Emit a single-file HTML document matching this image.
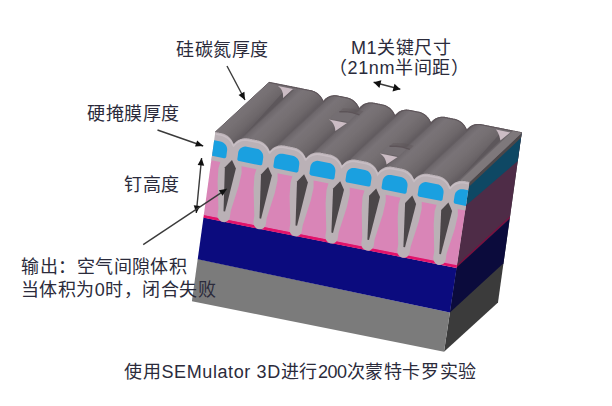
<!DOCTYPE html>
<html lang="zh-CN"><head><meta charset="utf-8"><style>
html,body{margin:0;padding:0;}
body{width:612px;height:406px;background:#fff;position:relative;overflow:hidden;}
svg{position:absolute;left:0;top:0;filter:blur(0.45px);}
.t{position:absolute;font-family:"Liberation Sans",sans-serif;font-size:18.6px;line-height:24px;color:#2b2b3b;white-space:nowrap;}
</style></head><body>
<svg width="612" height="406" viewBox="0 0 612 406">
<defs><linearGradient id="rg0" gradientUnits="userSpaceOnUse" x1="224.48" y1="112.43" x2="244.78" y2="134.19"><stop offset="0.000" stop-color="#5d575b"/><stop offset="0.060" stop-color="#6d676b"/><stop offset="0.250" stop-color="#797377"/><stop offset="0.500" stop-color="#767073"/><stop offset="0.800" stop-color="#6d676a"/><stop offset="1.000" stop-color="#615b5f"/></linearGradient>
<linearGradient id="rg1" gradientUnits="userSpaceOnUse" x1="260.46" y1="119.56" x2="280.76" y2="141.32"><stop offset="0.000" stop-color="#5d575b"/><stop offset="0.060" stop-color="#6d676b"/><stop offset="0.250" stop-color="#797377"/><stop offset="0.500" stop-color="#767073"/><stop offset="0.800" stop-color="#6d676a"/><stop offset="1.000" stop-color="#615b5f"/></linearGradient>
<linearGradient id="rg2" gradientUnits="userSpaceOnUse" x1="296.44" y1="126.70" x2="316.74" y2="148.45"><stop offset="0.000" stop-color="#5d575b"/><stop offset="0.060" stop-color="#6d676b"/><stop offset="0.250" stop-color="#797377"/><stop offset="0.500" stop-color="#767073"/><stop offset="0.800" stop-color="#6d676a"/><stop offset="1.000" stop-color="#615b5f"/></linearGradient>
<linearGradient id="rg3" gradientUnits="userSpaceOnUse" x1="332.42" y1="133.83" x2="352.72" y2="155.59"><stop offset="0.000" stop-color="#5d575b"/><stop offset="0.060" stop-color="#6d676b"/><stop offset="0.250" stop-color="#797377"/><stop offset="0.500" stop-color="#767073"/><stop offset="0.800" stop-color="#6d676a"/><stop offset="1.000" stop-color="#615b5f"/></linearGradient>
<linearGradient id="rg4" gradientUnits="userSpaceOnUse" x1="368.39" y1="140.96" x2="388.69" y2="162.72"><stop offset="0.000" stop-color="#5d575b"/><stop offset="0.060" stop-color="#6d676b"/><stop offset="0.250" stop-color="#797377"/><stop offset="0.500" stop-color="#767073"/><stop offset="0.800" stop-color="#6d676a"/><stop offset="1.000" stop-color="#615b5f"/></linearGradient>
<linearGradient id="rg5" gradientUnits="userSpaceOnUse" x1="404.37" y1="148.09" x2="424.67" y2="169.85"><stop offset="0.000" stop-color="#5d575b"/><stop offset="0.060" stop-color="#6d676b"/><stop offset="0.250" stop-color="#797377"/><stop offset="0.500" stop-color="#767073"/><stop offset="0.800" stop-color="#6d676a"/><stop offset="1.000" stop-color="#615b5f"/></linearGradient>
<linearGradient id="rg6" gradientUnits="userSpaceOnUse" x1="440.35" y1="155.23" x2="460.65" y2="176.99"><stop offset="0.000" stop-color="#5d575b"/><stop offset="0.060" stop-color="#6d676b"/><stop offset="0.250" stop-color="#797377"/><stop offset="0.500" stop-color="#767073"/><stop offset="0.800" stop-color="#6d676a"/><stop offset="1.000" stop-color="#615b5f"/></linearGradient>
<linearGradient id="rg7" gradientUnits="userSpaceOnUse" x1="476.33" y1="162.36" x2="496.63" y2="184.12"><stop offset="0.000" stop-color="#5d575b"/><stop offset="0.060" stop-color="#6d676b"/><stop offset="0.250" stop-color="#797377"/><stop offset="0.500" stop-color="#767073"/><stop offset="0.800" stop-color="#6d676a"/><stop offset="1.000" stop-color="#615b5f"/></linearGradient></defs>
<polygon points="469.5,182.0 521.7,132.8 498.0,302.4 444.0,351.7" fill="#3b3b3b" />
<polygon points="469.5,182.0 521.7,132.8 509.9,217.5 456.8,266.7" fill="#4e2c47" />
<polygon points="457.0,265.0 510.0,216.3 509.7,218.8 456.6,267.6" fill="#7a1040" />
<polygon points="456.6,267.6 509.7,218.8 503.5,263.3 449.9,312.6" fill="#0b0b3c" />
<polygon points="469.5,182.0 521.7,132.8 517.8,160.9 466.0,205.6" fill="#0e4864" />
<polygon points="469.5,182.0 521.7,132.8 521.0,137.8 468.7,187.0" fill="#4c4749" />
<polygon points="215.3,132.0 215.9,132.1 216.6,132.2 217.2,132.4 217.8,132.5 218.5,132.6 219.1,132.8 219.7,132.9 220.4,133.0 221.0,133.1 221.7,133.3 222.3,133.4 222.9,133.6 223.5,133.8 224.2,134.0 224.8,134.3 225.4,134.6 226.0,134.9 226.6,135.3 227.2,135.6 227.8,136.1 228.4,136.5 229.0,137.0 229.5,137.6 230.1,138.2 230.7,138.8 231.2,139.5 231.8,140.3 232.3,141.2 232.8,142.2 233.3,143.3 233.9,144.1 234.7,143.1 235.4,142.3 236.2,141.6 236.9,141.0 237.6,140.5 238.3,140.1 239.0,139.7 239.7,139.4 240.4,139.1 241.1,138.9 241.8,138.7 242.5,138.5 243.1,138.4 243.8,138.3 244.5,138.2 245.1,138.2 245.8,138.2 246.4,138.2 247.1,138.3 247.7,138.4 248.3,138.5 249.0,138.6 249.6,138.8 250.3,138.9 250.9,139.0 251.5,139.1 252.2,139.2 252.8,139.4 253.4,139.5 254.1,139.6 254.7,139.8 255.3,139.9 256.0,140.0 256.6,140.1 257.2,140.2 257.9,140.4 258.5,140.5 259.1,140.7 259.8,140.9 260.4,141.2 261.0,141.4 261.6,141.7 262.2,142.1 262.8,142.4 263.4,142.8 264.0,143.3 264.6,143.7 265.2,144.2 265.7,144.8 266.3,145.4 266.9,146.1 267.4,146.8 268.0,147.6 268.5,148.5 269.0,149.5 269.5,150.7 270.1,151.0 270.9,150.0 271.7,149.2 272.4,148.6 273.1,148.0 273.9,147.5 274.6,147.1 275.3,146.7 276.0,146.4 276.7,146.2 277.3,145.9 278.0,145.7 278.7,145.6 279.4,145.5 280.0,145.4 280.7,145.3 281.3,145.3 282.0,145.3 282.6,145.4 283.3,145.4 283.9,145.5 284.6,145.6 285.2,145.8 285.8,145.9 286.5,146.0 287.1,146.1 287.7,146.2 288.4,146.4 289.0,146.5 289.7,146.6 290.3,146.8 290.9,146.9 291.6,147.0 292.2,147.1 292.8,147.2 293.5,147.4 294.1,147.5 294.7,147.7 295.4,147.9 296.0,148.1 296.6,148.3 297.2,148.6 297.8,148.9 298.4,149.2 299.0,149.6 299.6,150.0 300.2,150.4 300.8,150.9 301.4,151.4 302.0,152.0 302.5,152.6 303.1,153.3 303.6,154.0 304.2,154.9 304.7,155.8 305.2,156.8 305.7,158.0 306.3,157.9 307.1,156.9 307.9,156.2 308.6,155.5 309.4,155.0 310.1,154.5 310.8,154.1 311.5,153.8 312.2,153.5 312.9,153.2 313.6,153.0 314.3,152.8 314.9,152.7 315.6,152.6 316.3,152.5 316.9,152.4 317.6,152.4 318.2,152.4 318.9,152.5 319.5,152.5 320.2,152.6 320.8,152.8 321.4,152.9 322.1,153.0 322.7,153.1 323.3,153.2 324.0,153.4 324.6,153.5 325.2,153.6 325.9,153.8 326.5,153.9 327.1,154.0 327.8,154.1 328.4,154.2 329.1,154.4 329.7,154.5 330.3,154.6 331.0,154.8 331.6,155.0 332.2,155.2 332.8,155.5 333.4,155.8 334.0,156.1 334.6,156.4 335.2,156.8 335.8,157.2 336.4,157.6 337.0,158.1 337.6,158.6 338.2,159.2 338.7,159.8 339.3,160.5 339.8,161.3 340.4,162.1 340.9,163.1 341.4,164.1 341.8,165.4 342.6,164.8 343.4,163.9 344.1,163.2 344.9,162.5 345.6,162.0 346.3,161.5 347.0,161.1 347.7,160.8 348.4,160.5 349.1,160.3 349.8,160.1 350.5,159.9 351.2,159.7 351.8,159.6 352.5,159.6 353.1,159.5 353.8,159.5 354.5,159.5 355.1,159.6 355.7,159.7 356.4,159.8 357.0,159.9 357.7,160.0 358.3,160.1 358.9,160.2 359.6,160.4 360.2,160.5 360.8,160.6 361.5,160.8 362.1,160.9 362.7,161.0 363.4,161.1 364.0,161.2 364.6,161.4 365.3,161.5 365.9,161.6 366.5,161.8 367.2,161.9 367.8,162.1 368.4,162.4 369.0,162.6 369.6,162.9 370.3,163.2 370.9,163.6 371.5,164.0 372.0,164.4 372.6,164.8 373.2,165.3 373.8,165.9 374.4,166.4 374.9,167.1 375.5,167.8 376.0,168.5 376.5,169.4 377.1,170.4 377.6,171.5 378.0,172.7 378.8,171.7 379.6,170.8 380.4,170.1 381.1,169.5 381.8,169.0 382.6,168.6 383.3,168.2 384.0,167.8 384.7,167.6 385.3,167.3 386.0,167.1 386.7,167.0 387.4,166.8 388.0,166.7 388.7,166.7 389.4,166.6 390.0,166.6 390.7,166.6 391.3,166.7 392.0,166.8 392.6,166.9 393.2,167.0 393.9,167.1 394.5,167.2 395.1,167.4 395.8,167.5 396.4,167.6 397.1,167.8 397.7,167.9 398.3,168.0 399.0,168.1 399.6,168.2 400.2,168.4 400.9,168.5 401.5,168.6 402.1,168.8 402.8,168.9 403.4,169.1 404.0,169.3 404.6,169.5 405.3,169.8 405.9,170.1 406.5,170.4 407.1,170.8 407.7,171.1 408.3,171.6 408.8,172.0 409.4,172.5 410.0,173.1 410.6,173.7 411.1,174.3 411.7,175.0 412.2,175.8 412.7,176.7 413.2,177.7 413.7,178.8 414.3,179.6 415.1,178.6 415.8,177.8 416.6,177.1 417.3,176.5 418.1,176.0 418.8,175.6 419.5,175.2 420.2,174.9 420.9,174.6 421.6,174.4 422.3,174.2 422.9,174.0 423.6,173.9 424.3,173.8 424.9,173.8 425.6,173.7 426.3,173.7 426.9,173.8 427.5,173.8 428.2,173.9 428.8,174.0 429.5,174.1 430.1,174.2 430.7,174.4 431.4,174.5 432.0,174.6 432.6,174.8 433.3,174.9 433.9,175.0 434.5,175.1 435.2,175.2 435.8,175.4 436.5,175.5 437.1,175.6 437.7,175.8 438.4,175.9 439.0,176.0 439.6,176.2 440.2,176.4 440.9,176.7 441.5,176.9 442.1,177.2 442.7,177.6 443.3,177.9 443.9,178.3 444.5,178.8 445.1,179.2 445.6,179.7 446.2,180.3 446.8,180.9 447.3,181.5 447.9,182.3 448.4,183.1 448.9,184.0 449.4,185.0 449.9,186.2 450.5,186.5 451.3,185.5 452.1,184.8 452.8,184.1 453.6,183.5 454.3,183.0 455.0,182.6 455.7,182.2 456.4,181.9 457.1,181.7 457.8,181.4 458.5,181.3 459.2,181.1 459.8,181.0 460.5,180.9 461.2,180.8 461.8,180.8 462.5,180.8 463.1,180.9 463.8,180.9 464.4,181.0 465.1,181.1 465.7,181.2 466.3,181.4 467.0,181.5 467.6,181.6 468.2,181.8 468.9,181.9 469.5,182.0 521.7,132.8 521.1,132.7 520.4,132.5 519.8,132.4 519.2,132.3 518.5,132.2 517.9,132.0 517.3,131.9 516.6,131.8 516.0,131.7 515.4,131.5 514.8,131.4 514.1,131.3 513.5,131.2 512.9,131.0 512.2,130.9 511.6,130.8 511.0,130.7 510.3,130.5 509.7,130.4 509.1,130.3 508.4,130.2 507.8,130.0 507.2,129.9 506.5,129.8 505.9,129.7 505.3,129.5 504.6,129.4 504.0,129.3 503.4,129.1 502.7,129.0 502.1,128.9 501.5,128.8 500.9,128.6 500.2,128.5 499.6,128.4 499.0,128.3 498.3,128.1 497.7,128.0 497.1,127.9 496.4,127.8 495.8,127.6 495.2,127.5 494.5,127.4 493.9,127.3 493.3,127.1 492.6,127.0 492.0,126.9 491.4,126.8 490.7,126.6 490.1,126.5 489.5,126.4 488.8,126.2 488.2,126.1 487.6,126.0 487.0,125.9 486.3,125.7 485.7,125.6 485.1,125.5 484.4,125.4 483.8,125.2 483.2,125.1 482.5,125.0 481.9,124.9 481.3,124.7 480.6,124.6 480.0,124.5 479.4,124.5 478.7,124.5 478.1,124.5 477.4,124.5 476.7,124.5 476.1,124.6 475.4,124.8 474.7,124.9 474.1,125.1 473.4,125.3 472.7,125.6 472.0,125.9 471.3,126.3 470.6,126.7 469.8,127.2 469.1,127.8 468.4,128.5 467.6,129.3 466.8,130.3 466.3,129.5 465.8,128.4 465.3,127.4 464.7,126.5 464.2,125.7 463.7,125.0 463.1,124.4 462.6,123.8 462.0,123.2 461.4,122.7 460.8,122.3 460.2,121.8 459.6,121.5 459.0,121.1 458.4,120.8 457.8,120.5 457.2,120.2 456.6,120.0 456.0,119.8 455.4,119.6 454.7,119.4 454.1,119.3 453.5,119.2 452.8,119.1 452.2,118.9 451.6,118.8 450.9,118.7 450.3,118.6 449.7,118.4 449.0,118.3 448.4,118.2 447.8,118.1 447.2,117.9 446.5,117.8 445.9,117.7 445.3,117.6 444.6,117.4 444.0,117.4 443.3,117.3 442.7,117.3 442.0,117.3 441.4,117.3 440.7,117.4 440.1,117.5 439.4,117.6 438.7,117.8 438.0,118.0 437.4,118.2 436.7,118.5 436.0,118.8 435.3,119.2 434.5,119.7 433.8,120.2 433.1,120.8 432.3,121.5 431.6,122.3 430.8,123.4 430.3,122.1 429.8,121.0 429.3,120.1 428.8,119.2 428.2,118.4 427.7,117.7 427.1,117.1 426.6,116.5 426.0,116.0 425.4,115.5 424.8,115.0 424.2,114.6 423.6,114.2 423.0,113.9 422.4,113.6 421.8,113.3 421.2,113.0 420.6,112.8 420.0,112.6 419.4,112.4 418.7,112.3 418.1,112.1 417.5,112.0 416.8,111.9 416.2,111.8 415.6,111.6 414.9,111.5 414.3,111.4 413.7,111.3 413.0,111.1 412.4,111.0 411.8,110.9 411.1,110.8 410.5,110.6 409.9,110.5 409.2,110.4 408.6,110.3 408.0,110.2 407.3,110.2 406.7,110.1 406.0,110.1 405.4,110.2 404.7,110.3 404.1,110.4 403.4,110.5 402.7,110.7 402.0,110.9 401.3,111.1 400.6,111.4 399.9,111.8 399.2,112.1 398.5,112.6 397.8,113.1 397.1,113.8 396.3,114.5 395.5,115.4 394.8,116.0 394.3,114.7 393.8,113.7 393.3,112.7 392.8,111.9 392.2,111.1 391.7,110.4 391.1,109.8 390.6,109.2 390.0,108.7 389.4,108.2 388.8,107.8 388.2,107.4 387.6,107.0 387.0,106.7 386.4,106.3 385.8,106.1 385.2,105.8 384.6,105.6 384.0,105.4 383.3,105.2 382.7,105.1 382.1,105.0 381.5,104.8 380.8,104.7 380.2,104.6 379.6,104.4 378.9,104.3 378.3,104.2 377.7,104.1 377.0,103.9 376.4,103.8 375.8,103.7 375.1,103.6 374.5,103.4 373.9,103.3 373.2,103.2 372.6,103.1 372.0,103.0 371.3,103.0 370.7,103.0 370.0,103.0 369.4,103.0 368.7,103.1 368.0,103.2 367.4,103.4 366.7,103.5 366.0,103.8 365.3,104.0 364.6,104.3 363.9,104.7 363.2,105.1 362.5,105.5 361.8,106.1 361.0,106.7 360.3,107.5 359.5,108.4 358.8,108.6 358.4,107.4 357.9,106.3 357.3,105.4 356.8,104.6 356.3,103.8 355.7,103.2 355.1,102.5 354.6,102.0 354.0,101.5 353.4,101.0 352.8,100.5 352.2,100.1 351.6,99.8 351.0,99.4 350.4,99.1 349.8,98.9 349.2,98.6 348.6,98.4 348.0,98.2 347.3,98.0 346.7,97.9 346.1,97.8 345.4,97.6 344.8,97.5 344.2,97.4 343.5,97.3 342.9,97.1 342.3,97.0 341.7,96.9 341.0,96.8 340.4,96.6 339.8,96.5 339.1,96.4 338.5,96.3 337.9,96.1 337.2,96.0 336.6,95.9 336.0,95.9 335.3,95.8 334.7,95.8 334.0,95.8 333.3,95.9 332.7,96.0 332.0,96.1 331.4,96.2 330.7,96.4 330.0,96.6 329.3,96.9 328.6,97.2 327.9,97.6 327.2,98.0 326.5,98.5 325.8,99.0 325.0,99.7 324.3,100.5 323.5,101.5 322.9,101.2 322.4,100.0 321.9,99.0 321.4,98.1 320.8,97.3 320.3,96.5 319.7,95.9 319.1,95.3 318.6,94.7 318.0,94.2 317.4,93.7 316.8,93.3 316.2,92.9 315.6,92.5 315.0,92.2 314.4,91.9 313.8,91.6 313.2,91.4 312.6,91.2 312.0,91.0 311.3,90.8 310.7,90.7 310.1,90.6 309.4,90.5 308.8,90.3 308.2,90.2 307.5,90.1 306.9,90.0 306.3,89.8 305.6,89.7 305.0,89.6 304.4,89.5 303.7,89.3 303.1,89.2 302.5,89.1 301.9,89.0 301.2,88.8 300.6,88.7 300.0,88.6 299.3,88.4 298.7,88.3 298.1,88.2 297.4,88.1 296.8,87.9 296.2,87.8 295.5,87.7 294.9,87.6 294.3,87.4 293.6,87.3 293.0,87.2 292.4,87.1 291.7,86.9 291.1,86.8 290.5,86.7 289.8,86.6 289.2,86.4 288.6,86.3 288.0,86.2 287.3,86.1 286.7,85.9 286.1,85.8 285.4,85.7 284.8,85.5 284.2,85.4 283.5,85.3 282.9,85.2 282.3,85.0 281.6,84.9 281.0,84.8 280.4,84.7 279.7,84.5 279.1,84.4 278.5,84.3 277.8,84.2 277.2,84.0 276.6,83.9 275.9,83.8 275.3,83.7 274.7,83.5 274.1,83.4 273.4,83.3 272.8,83.2 272.2,83.0 271.5,82.9 270.9,82.8 270.3,82.7 269.6,82.5 269.0,82.4" fill="#6f696c" stroke="#5f565b" stroke-width="1"/>
<polygon points="215.3,132.0 233.4,146.3 288.4,86.3 287.9,86.2 287.5,86.1 287.0,86.0 286.5,85.9 286.0,85.8 285.5,85.7 285.0,85.6 284.5,85.5 284.1,85.4 283.6,85.3 283.1,85.2 282.6,85.1 282.1,85.0 281.6,84.9 281.1,84.8 280.7,84.7 280.2,84.6 279.7,84.5 279.2,84.4 278.7,84.3 278.2,84.2 277.7,84.1 277.3,84.0 276.8,84.0 276.3,83.9 275.8,83.8 275.3,83.7 274.8,83.6 274.3,83.5 273.9,83.4 273.4,83.3 272.9,83.2 272.4,83.1 271.9,83.0 271.4,82.9 270.9,82.8 270.5,82.7 270.0,82.6 269.5,82.5 269.0,82.4" fill="url(#rg0)"/>
<polygon points="233.4,146.3 269.5,153.5 323.1,101.9 322.5,100.1 321.7,98.7 321.0,97.5 320.2,96.5 319.4,95.5 318.6,94.7 317.8,94.0 316.9,93.4 316.1,92.8 315.3,92.3 314.4,91.9 313.5,91.5 312.6,91.2 311.8,91.0 310.9,90.7 310.0,90.6 309.1,90.4 308.2,90.2 307.3,90.0 306.4,89.9 305.5,89.7 304.6,89.5 303.7,89.3 302.8,89.1 301.9,89.0 301.0,88.8 300.1,88.6 299.2,88.4 298.3,88.2 297.4,88.1 296.5,87.9 295.6,87.7 294.7,87.5 293.8,87.3 292.9,87.2 292.0,87.0 291.1,86.8 290.2,86.6 289.3,86.5 288.4,86.3" fill="url(#rg1)"/>
<polygon points="269.5,153.5 305.6,160.6 359.0,109.1 358.3,107.3 357.6,105.9 356.9,104.7 356.1,103.6 355.3,102.7 354.5,101.9 353.7,101.2 352.8,100.5 352.0,100.0 351.1,99.5 350.3,99.1 349.4,98.7 348.5,98.4 347.6,98.1 346.8,97.9 345.9,97.7 345.0,97.5 344.1,97.4 343.2,97.2 342.3,97.0 341.4,96.8 340.5,96.7 339.6,96.5 338.7,96.3 337.8,96.1 336.9,96.0 336.0,95.9 335.1,95.8 334.1,95.8 333.2,95.9 332.3,96.0 331.3,96.3 330.3,96.5 329.4,96.9 328.4,97.3 327.4,97.9 326.4,98.6 325.3,99.4 324.2,100.5 323.1,101.9" fill="url(#rg2)"/>
<polygon points="305.6,160.6 341.6,167.7 394.9,116.3 394.2,114.5 393.5,113.0 392.7,111.8 392.0,110.8 391.2,109.9 390.4,109.1 389.5,108.3 388.7,107.7 387.9,107.1 387.0,106.6 386.2,106.2 385.3,105.8 384.4,105.5 383.5,105.3 382.6,105.1 381.7,104.9 380.8,104.7 379.9,104.5 379.0,104.3 378.2,104.2 377.3,104.0 376.4,103.8 375.5,103.6 374.6,103.5 373.7,103.3 372.8,103.1 371.9,103.0 370.9,103.0 370.0,103.0 369.1,103.1 368.1,103.2 367.2,103.4 366.2,103.7 365.3,104.0 364.3,104.5 363.3,105.0 362.2,105.7 361.2,106.6 360.1,107.7 359.0,109.1" fill="url(#rg3)"/>
<polygon points="341.6,167.7 377.7,174.8 430.7,123.4 430.1,121.6 429.4,120.2 428.6,119.0 427.8,117.9 427.1,117.0 426.3,116.2 425.4,115.5 424.6,114.9 423.8,114.3 422.9,113.8 422.1,113.4 421.2,113.0 420.3,112.7 419.4,112.4 418.5,112.2 417.6,112.0 416.7,111.9 415.8,111.7 414.9,111.5 414.0,111.3 413.1,111.1 412.2,111.0 411.3,110.8 410.5,110.6 409.6,110.4 408.7,110.3 407.7,110.2 406.8,110.1 405.9,110.2 405.0,110.2 404.0,110.4 403.1,110.6 402.1,110.8 401.1,111.2 400.1,111.7 399.1,112.2 398.1,112.9 397.1,113.7 396.0,114.8 394.9,116.3" fill="url(#rg4)"/>
<polygon points="377.7,174.8 413.8,181.9 466.6,130.6 466.0,128.8 465.2,127.3 464.5,126.1 463.7,125.1 462.9,124.2 462.1,123.4 461.3,122.7 460.5,122.0 459.6,121.5 458.8,121.0 457.9,120.5 457.1,120.2 456.2,119.8 455.3,119.6 454.4,119.4 453.5,119.2 452.6,119.0 451.7,118.8 450.8,118.7 449.9,118.5 449.0,118.3 448.1,118.1 447.2,117.9 446.3,117.8 445.4,117.6 444.5,117.4 443.6,117.3 442.7,117.3 441.8,117.3 440.9,117.4 439.9,117.5 439.0,117.7 438.0,118.0 437.0,118.4 436.0,118.8 435.0,119.4 434.0,120.1 433.0,120.9 431.9,122.0 430.7,123.4" fill="url(#rg5)"/>
<polygon points="413.8,181.9 449.9,189.0 503.8,129.2 502.9,129.0 502.0,128.9 501.1,128.7 500.2,128.5 499.3,128.3 498.4,128.1 497.5,128.0 496.6,127.8 495.7,127.6 494.8,127.4 493.9,127.3 493.0,127.1 492.1,126.9 491.2,126.7 490.3,126.5 489.4,126.4 488.5,126.2 487.6,126.0 486.7,125.8 485.8,125.6 484.9,125.5 484.0,125.3 483.1,125.1 482.2,124.9 481.3,124.7 480.4,124.6 479.5,124.5 478.6,124.5 477.7,124.5 476.7,124.5 475.8,124.7 474.8,124.9 473.9,125.2 472.9,125.5 471.9,126.0 470.9,126.5 469.9,127.2 468.8,128.1 467.7,129.1 466.6,130.6" fill="url(#rg6)"/>
<polygon points="449.9,189.0 469.5,182.0 521.7,132.8 521.3,132.7 520.8,132.6 520.4,132.5 519.9,132.4 519.5,132.4 519.0,132.3 518.6,132.2 518.1,132.1 517.7,132.0 517.2,131.9 516.8,131.8 516.3,131.7 515.9,131.6 515.4,131.5 515.0,131.5 514.5,131.4 514.1,131.3 513.6,131.2 513.2,131.1 512.7,131.0 512.3,130.9 511.8,130.8 511.4,130.7 510.9,130.7 510.5,130.6 510.0,130.5 509.6,130.4 509.1,130.3 508.7,130.2 508.2,130.1 507.8,130.0 507.3,129.9 506.9,129.8 506.4,129.8 506.0,129.7 505.6,129.6 505.1,129.5 504.7,129.4 504.2,129.3 503.8,129.2" fill="url(#rg7)"/>
<polygon points="277.1,86.7 295.0,90.3 297.4,88.1 279.5,84.5" fill="#746e72"/>
<polygon points="330.0,118.6 347.9,122.2 357.5,113.3 339.6,109.7" fill="#746e72"/>
<polygon points="339.3,111.8 350.4,112.2 359.5,114.9 363.5,111.2 354.1,108.7 343.0,108.3" fill="#5b5257" opacity="0.35"/>
<polyline points="339.3,111.8 346.1,111.6 352.3,112.6 359.5,114.9" fill="none" stroke="#5b5257" stroke-width="1.4" opacity="0.9"/>
<polygon points="380.8,152.6 398.8,156.2 407.7,147.8 389.8,144.2" fill="#746e72"/>
<polygon points="389.5,146.3 400.6,146.7 409.8,149.4 413.7,145.7 404.3,143.3 393.2,142.9" fill="#5b5257" opacity="0.35"/>
<polyline points="389.5,146.3 396.3,146.2 402.6,147.1 409.8,149.4" fill="none" stroke="#5b5257" stroke-width="1.4" opacity="0.9"/>
<polygon points="492.5,129.7 510.4,133.2 512.7,131.0 494.8,127.4" fill="#746e72"/>
<polyline points="269.0,82.4 269.0,82.4 269.6,82.5 270.3,82.7 270.9,82.8 271.5,82.9 272.2,83.0 272.8,83.2 273.4,83.3 274.1,83.4 274.7,83.5 275.3,83.7 275.9,83.8 276.6,83.9 277.2,84.0 277.8,84.2 278.5,84.3 279.1,84.4 279.7,84.5 280.4,84.7 281.0,84.8 281.6,84.9 282.3,85.0 282.9,85.2 283.5,85.3 284.2,85.4 284.8,85.5 285.4,85.7 286.1,85.8 286.7,85.9 287.3,86.1 288.0,86.2 288.6,86.3 289.2,86.4 289.8,86.6 290.5,86.7 291.1,86.8 291.7,86.9 292.4,87.1 293.0,87.2 293.6,87.3 294.3,87.4 294.9,87.6 295.5,87.7 296.2,87.8 296.8,87.9 297.4,88.1 298.1,88.2 298.7,88.3 299.3,88.4 300.0,88.6 300.6,88.7 301.2,88.8 301.9,89.0 302.5,89.1 303.1,89.2 303.7,89.3 304.4,89.5 305.0,89.6 305.6,89.7 306.3,89.8 306.9,90.0 307.5,90.1 308.2,90.2 308.8,90.3 309.4,90.5 310.1,90.6 310.7,90.7 311.3,90.8 312.0,91.0 312.6,91.2 313.2,91.4 313.8,91.6 314.4,91.9 315.0,92.2 315.6,92.5 316.2,92.9 316.8,93.3 317.4,93.7 318.0,94.2 318.6,94.7 319.1,95.3 319.7,95.9 320.3,96.5 320.8,97.3 321.4,98.1 321.9,99.0 322.4,100.0 322.9,101.2 323.5,101.5 324.3,100.5 325.0,99.7 325.8,99.0 326.5,98.5 327.2,98.0 327.9,97.6 328.6,97.2 329.3,96.9 330.0,96.6 330.7,96.4 331.4,96.2 332.0,96.1 332.7,96.0 333.3,95.9 334.0,95.8 334.7,95.8 335.3,95.8 336.0,95.9 336.6,95.9 337.2,96.0 337.9,96.1 338.5,96.3 339.1,96.4 339.8,96.5 340.4,96.6 341.0,96.8 341.7,96.9 342.3,97.0 342.9,97.1 343.5,97.3 344.2,97.4 344.8,97.5 345.4,97.6 346.1,97.8 346.7,97.9 347.3,98.0 348.0,98.2 348.6,98.4 349.2,98.6 349.8,98.9 350.4,99.1 351.0,99.4 351.6,99.8 352.2,100.1 352.8,100.5 353.4,101.0 354.0,101.5 354.6,102.0 355.1,102.5 355.7,103.2 356.3,103.8 356.8,104.6 357.3,105.4 357.9,106.3 358.4,107.4 358.8,108.6 359.5,108.4 360.3,107.5 361.0,106.7 361.8,106.1 362.5,105.5 363.2,105.1 363.9,104.7 364.6,104.3 365.3,104.0 366.0,103.8 366.7,103.5 367.4,103.4 368.0,103.2 368.7,103.1 369.4,103.0 370.0,103.0 370.7,103.0 371.3,103.0 372.0,103.0 372.6,103.1 373.2,103.2 373.9,103.3 374.5,103.4 375.1,103.6 375.8,103.7 376.4,103.8 377.0,103.9 377.7,104.1 378.3,104.2 378.9,104.3 379.6,104.4 380.2,104.6 380.8,104.7 381.5,104.8 382.1,105.0 382.7,105.1 383.3,105.2 384.0,105.4 384.6,105.6 385.2,105.8 385.8,106.1 386.4,106.3 387.0,106.7 387.6,107.0 388.2,107.4 388.8,107.8 389.4,108.2 390.0,108.7 390.6,109.2 391.1,109.8 391.7,110.4 392.2,111.1 392.8,111.9 393.3,112.7 393.8,113.7 394.3,114.7 394.8,116.0 395.5,115.4 396.3,114.5 397.1,113.8 397.8,113.1 398.5,112.6 399.2,112.1 399.9,111.8 400.6,111.4 401.3,111.1 402.0,110.9 402.7,110.7 403.4,110.5 404.1,110.4 404.7,110.3 405.4,110.2 406.0,110.1 406.7,110.1 407.3,110.2 408.0,110.2 408.6,110.3 409.2,110.4 409.9,110.5 410.5,110.6 411.1,110.8 411.8,110.9 412.4,111.0 413.0,111.1 413.7,111.3 414.3,111.4 414.9,111.5 415.6,111.6 416.2,111.8 416.8,111.9 417.5,112.0 418.1,112.1 418.7,112.3 419.4,112.4 420.0,112.6 420.6,112.8 421.2,113.0 421.8,113.3 422.4,113.6 423.0,113.9 423.6,114.2 424.2,114.6 424.8,115.0 425.4,115.5 426.0,116.0 426.6,116.5 427.1,117.1 427.7,117.7 428.2,118.4 428.8,119.2 429.3,120.1 429.8,121.0 430.3,122.1 430.8,123.4 431.6,122.3 432.3,121.5 433.1,120.8 433.8,120.2 434.5,119.7 435.3,119.2 436.0,118.8 436.7,118.5 437.4,118.2 438.0,118.0 438.7,117.8 439.4,117.6 440.1,117.5 440.7,117.4 441.4,117.3 442.0,117.3 442.7,117.3 443.3,117.3 444.0,117.4 444.6,117.4 445.3,117.6 445.9,117.7 446.5,117.8 447.2,117.9 447.8,118.1 448.4,118.2 449.0,118.3 449.7,118.4 450.3,118.6 450.9,118.7 451.6,118.8 452.2,118.9 452.8,119.1 453.5,119.2 454.1,119.3 454.7,119.4 455.4,119.6 456.0,119.8 456.6,120.0 457.2,120.2 457.8,120.5 458.4,120.8 459.0,121.1 459.6,121.5 460.2,121.8 460.8,122.3 461.4,122.7 462.0,123.2 462.6,123.8 463.1,124.4 463.7,125.0 464.2,125.7 464.7,126.5 465.3,127.4 465.8,128.4 466.3,129.5 466.8,130.3 467.6,129.3 468.4,128.5 469.1,127.8 469.8,127.2 470.6,126.7 471.3,126.3 472.0,125.9 472.7,125.6 473.4,125.3 474.1,125.1 474.7,124.9 475.4,124.8 476.1,124.6 476.7,124.5 477.4,124.5 478.1,124.5 478.7,124.5 479.4,124.5 480.0,124.5 480.6,124.6 481.3,124.7 481.9,124.9 482.5,125.0 483.2,125.1 483.8,125.2 484.4,125.4 485.1,125.5 485.7,125.6 486.3,125.7 487.0,125.9 487.6,126.0 488.2,126.1 488.8,126.2 489.5,126.4 490.1,126.5 490.7,126.6 491.4,126.8 492.0,126.9 492.6,127.0 493.3,127.1 493.9,127.3 494.5,127.4 495.2,127.5 495.8,127.6 496.4,127.8 497.1,127.9 497.7,128.0 498.3,128.1 499.0,128.3 499.6,128.4 500.2,128.5 500.9,128.6 501.5,128.8 502.1,128.9 502.7,129.0 503.4,129.1 504.0,129.3 504.6,129.4 505.3,129.5 505.9,129.7 506.5,129.8 507.2,129.9 507.8,130.0 508.4,130.2 509.1,130.3 509.7,130.4 510.3,130.5 511.0,130.7 511.6,130.8 512.2,130.9 512.9,131.0 513.5,131.2 514.1,131.3 514.8,131.4 515.4,131.5 516.0,131.7 516.6,131.8 517.3,131.9 517.9,132.0 518.5,132.2 519.2,132.3 519.8,132.4 520.4,132.5 521.1,132.7 521.7,132.8 521.7,132.8" fill="none" stroke="#5f565b" stroke-width="1.1"/>
<polygon points="460.5,180.2 469.5,182.0 521.7,132.8 512.8,131.0" fill="#7e787b"/>
<polygon points="278.0,86.1 293.0,89.1 283.0,97.9 283.1,96.4 283.0,94.9 282.9,93.5 282.5,92.2 282.1,90.9 281.5,89.8 280.9,88.7 280.0,87.8 279.1,86.9" fill="#cbbcc4"/>
<polygon points="328.8,119.4 347.0,123.0 335.4,131.0 335.2,129.5 335.0,128.0 334.6,126.7 334.1,125.4 333.5,124.2 332.8,123.1 332.0,122.0 331.1,121.1 330.0,120.2" fill="#cbbcc4"/>
<polygon points="379.9,153.5 397.6,157.0 386.5,164.5 386.3,163.1 386.0,161.7 385.6,160.5 385.1,159.2 384.5,158.1 383.8,157.0 382.9,156.0 382.0,155.1 381.0,154.2" fill="#cbbcc4"/>
<polygon points="495.9,129.6 510.2,132.4 500.4,140.6 500.1,139.1 499.7,137.6 499.4,136.3 499.0,135.1 498.5,133.9 498.1,132.9 497.6,131.9 497.0,131.0 496.5,130.3" fill="#cbbcc4"/>
<polygon points="197.7,259.1 449.9,312.4 444.0,351.7 191.9,301.2" fill="#7b7b7b" />
<polygon points="203.5,217.6 456.6,267.9 449.9,312.6 197.7,259.3" fill="#0b0b7e" />
<polygon points="203.9,214.4 457.1,264.6 456.6,268.1 203.4,217.8" fill="#e2126a" />
<polygon points="212.5,152.0 466.5,202.1 457.0,265.2 203.8,215.0" fill="#d985b7" />
<polygon points="215.3,132.0 215.9,132.1 216.6,132.2 217.2,132.4 217.8,132.5 218.5,132.6 219.1,132.8 219.7,132.9 220.4,133.0 221.0,133.1 221.7,133.3 222.3,133.4 222.9,133.6 223.5,133.8 224.2,134.0 224.8,134.3 225.4,134.6 226.0,134.9 226.6,135.3 227.2,135.6 227.8,136.1 228.4,136.5 229.0,137.0 229.5,137.6 230.1,138.2 230.7,138.8 231.2,139.5 231.8,140.3 232.3,141.2 232.8,142.2 233.3,143.3 233.9,144.1 234.7,143.1 235.4,142.3 236.2,141.6 236.9,141.0 237.6,140.5 238.3,140.1 239.0,139.7 239.7,139.4 240.4,139.1 241.1,138.9 241.8,138.7 242.5,138.5 243.1,138.4 243.8,138.3 244.5,138.2 245.1,138.2 245.8,138.2 246.4,138.2 247.1,138.3 247.7,138.4 248.3,138.5 249.0,138.6 249.6,138.8 250.3,138.9 250.9,139.0 251.5,139.1 252.2,139.2 252.8,139.4 253.4,139.5 254.1,139.6 254.7,139.8 255.3,139.9 256.0,140.0 256.6,140.1 257.2,140.2 257.9,140.4 258.5,140.5 259.1,140.7 259.8,140.9 260.4,141.2 261.0,141.4 261.6,141.7 262.2,142.1 262.8,142.4 263.4,142.8 264.0,143.3 264.6,143.7 265.2,144.2 265.7,144.8 266.3,145.4 266.9,146.1 267.4,146.8 268.0,147.6 268.5,148.5 269.0,149.5 269.5,150.7 270.1,151.0 270.9,150.0 271.7,149.2 272.4,148.6 273.1,148.0 273.9,147.5 274.6,147.1 275.3,146.7 276.0,146.4 276.7,146.2 277.3,145.9 278.0,145.7 278.7,145.6 279.4,145.5 280.0,145.4 280.7,145.3 281.3,145.3 282.0,145.3 282.6,145.4 283.3,145.4 283.9,145.5 284.6,145.6 285.2,145.8 285.8,145.9 286.5,146.0 287.1,146.1 287.7,146.2 288.4,146.4 289.0,146.5 289.7,146.6 290.3,146.8 290.9,146.9 291.6,147.0 292.2,147.1 292.8,147.2 293.5,147.4 294.1,147.5 294.7,147.7 295.4,147.9 296.0,148.1 296.6,148.3 297.2,148.6 297.8,148.9 298.4,149.2 299.0,149.6 299.6,150.0 300.2,150.4 300.8,150.9 301.4,151.4 302.0,152.0 302.5,152.6 303.1,153.3 303.6,154.0 304.2,154.9 304.7,155.8 305.2,156.8 305.7,158.0 306.3,157.9 307.1,156.9 307.9,156.2 308.6,155.5 309.4,155.0 310.1,154.5 310.8,154.1 311.5,153.8 312.2,153.5 312.9,153.2 313.6,153.0 314.3,152.8 314.9,152.7 315.6,152.6 316.3,152.5 316.9,152.4 317.6,152.4 318.2,152.4 318.9,152.5 319.5,152.5 320.2,152.6 320.8,152.8 321.4,152.9 322.1,153.0 322.7,153.1 323.3,153.2 324.0,153.4 324.6,153.5 325.2,153.6 325.9,153.8 326.5,153.9 327.1,154.0 327.8,154.1 328.4,154.2 329.1,154.4 329.7,154.5 330.3,154.6 331.0,154.8 331.6,155.0 332.2,155.2 332.8,155.5 333.4,155.8 334.0,156.1 334.6,156.4 335.2,156.8 335.8,157.2 336.4,157.6 337.0,158.1 337.6,158.6 338.2,159.2 338.7,159.8 339.3,160.5 339.8,161.3 340.4,162.1 340.9,163.1 341.4,164.1 341.8,165.4 342.6,164.8 343.4,163.9 344.1,163.2 344.9,162.5 345.6,162.0 346.3,161.5 347.0,161.1 347.7,160.8 348.4,160.5 349.1,160.3 349.8,160.1 350.5,159.9 351.2,159.7 351.8,159.6 352.5,159.6 353.1,159.5 353.8,159.5 354.5,159.5 355.1,159.6 355.7,159.7 356.4,159.8 357.0,159.9 357.7,160.0 358.3,160.1 358.9,160.2 359.6,160.4 360.2,160.5 360.8,160.6 361.5,160.8 362.1,160.9 362.7,161.0 363.4,161.1 364.0,161.2 364.6,161.4 365.3,161.5 365.9,161.6 366.5,161.8 367.2,161.9 367.8,162.1 368.4,162.4 369.0,162.6 369.6,162.9 370.3,163.2 370.9,163.6 371.5,164.0 372.0,164.4 372.6,164.8 373.2,165.3 373.8,165.9 374.4,166.4 374.9,167.1 375.5,167.8 376.0,168.5 376.5,169.4 377.1,170.4 377.6,171.5 378.0,172.7 378.8,171.7 379.6,170.8 380.4,170.1 381.1,169.5 381.8,169.0 382.6,168.6 383.3,168.2 384.0,167.8 384.7,167.6 385.3,167.3 386.0,167.1 386.7,167.0 387.4,166.8 388.0,166.7 388.7,166.7 389.4,166.6 390.0,166.6 390.7,166.6 391.3,166.7 392.0,166.8 392.6,166.9 393.2,167.0 393.9,167.1 394.5,167.2 395.1,167.4 395.8,167.5 396.4,167.6 397.1,167.8 397.7,167.9 398.3,168.0 399.0,168.1 399.6,168.2 400.2,168.4 400.9,168.5 401.5,168.6 402.1,168.8 402.8,168.9 403.4,169.1 404.0,169.3 404.6,169.5 405.3,169.8 405.9,170.1 406.5,170.4 407.1,170.8 407.7,171.1 408.3,171.6 408.8,172.0 409.4,172.5 410.0,173.1 410.6,173.7 411.1,174.3 411.7,175.0 412.2,175.8 412.7,176.7 413.2,177.7 413.7,178.8 414.3,179.6 415.1,178.6 415.8,177.8 416.6,177.1 417.3,176.5 418.1,176.0 418.8,175.6 419.5,175.2 420.2,174.9 420.9,174.6 421.6,174.4 422.3,174.2 422.9,174.0 423.6,173.9 424.3,173.8 424.9,173.8 425.6,173.7 426.3,173.7 426.9,173.8 427.5,173.8 428.2,173.9 428.8,174.0 429.5,174.1 430.1,174.2 430.7,174.4 431.4,174.5 432.0,174.6 432.6,174.8 433.3,174.9 433.9,175.0 434.5,175.1 435.2,175.2 435.8,175.4 436.5,175.5 437.1,175.6 437.7,175.8 438.4,175.9 439.0,176.0 439.6,176.2 440.2,176.4 440.9,176.7 441.5,176.9 442.1,177.2 442.7,177.6 443.3,177.9 443.9,178.3 444.5,178.8 445.1,179.2 445.6,179.7 446.2,180.3 446.8,180.9 447.3,181.5 447.9,182.3 448.4,183.1 448.9,184.0 449.4,185.0 449.9,186.2 450.5,186.5 451.3,185.5 452.1,184.8 452.8,184.1 453.6,183.5 454.3,183.0 455.0,182.6 455.7,182.2 456.4,181.9 457.1,181.7 457.8,181.4 458.5,181.3 459.2,181.1 459.8,181.0 460.5,180.9 461.2,180.8 461.8,180.8 462.5,180.8 463.1,180.9 463.8,180.9 464.4,181.0 465.1,181.1 465.7,181.2 466.3,181.4 467.0,181.5 467.6,181.6 468.2,181.8 468.9,181.9 469.5,182.0 465.2,210.4 211.4,160.3" fill="#bab1b6" />
<polyline points="215.7,134.0 216.3,134.2 216.9,134.3 217.6,134.4 218.2,134.5 218.8,134.7 219.5,134.8 220.1,134.9 220.8,135.0 221.4,135.2 222.0,135.3 222.7,135.5 223.3,135.7 223.9,135.9 224.5,136.2 225.1,136.5 225.7,136.8 226.3,137.2 226.9,137.5 227.5,138.0 228.1,138.4 228.7,138.9 229.3,139.5 229.8,140.1 230.4,140.7 231.0,141.4 231.5,142.2 232.0,143.1 232.6,144.1 233.0,145.2 233.6,146.0 234.4,145.0 235.2,144.2 235.9,143.5 236.6,142.9 237.4,142.4 238.1,142.0 238.8,141.6 239.5,141.3 240.2,141.0 240.8,140.8 241.5,140.6 242.2,140.4 242.9,140.3 243.5,140.2 244.2,140.1 244.9,140.1 245.5,140.1 246.2,140.2 246.8,140.2 247.4,140.3 248.1,140.4 248.7,140.5 249.4,140.7 250.0,140.8 250.6,140.9 251.3,141.0 251.9,141.2 252.5,141.3 253.2,141.4 253.8,141.5 254.4,141.7 255.1,141.8 255.7,141.9 256.3,142.0 257.0,142.2 257.6,142.3 258.2,142.4 258.9,142.6 259.5,142.8 260.1,143.1 260.7,143.3 261.3,143.6 261.9,144.0 262.5,144.3 263.1,144.7 263.7,145.2 264.3,145.6 264.9,146.1 265.5,146.7 266.0,147.3 266.6,148.0 267.2,148.7 267.7,149.5 268.2,150.4 268.7,151.4 269.2,152.6 269.8,152.9 270.6,151.9 271.4,151.1 272.1,150.5 272.9,149.9 273.6,149.4 274.3,149.0 275.0,148.6 275.7,148.3 276.4,148.1 277.1,147.8 277.8,147.6 278.4,147.5 279.1,147.4 279.8,147.3 280.4,147.2 281.1,147.2 281.7,147.2 282.4,147.3 283.0,147.3 283.7,147.4 284.3,147.5 284.9,147.7 285.6,147.8 286.2,147.9 286.8,148.0 287.5,148.2 288.1,148.3 288.7,148.4 289.4,148.5 290.0,148.7 290.7,148.8 291.3,148.9 291.9,149.0 292.6,149.2 293.2,149.3 293.8,149.4 294.5,149.6 295.1,149.8 295.7,150.0 296.3,150.2 296.9,150.5 297.6,150.8 298.2,151.1 298.8,151.5 299.4,151.9 299.9,152.3 300.5,152.8 301.1,153.3 301.7,153.9 302.2,154.5 302.8,155.2 303.4,155.9 303.9,156.8 304.4,157.7 304.9,158.7 305.4,159.9 306.1,159.8 306.9,158.8 307.6,158.1 308.4,157.4 309.1,156.9 309.8,156.4 310.5,156.0 311.2,155.7 311.9,155.4 312.6,155.1 313.3,154.9 314.0,154.7 314.7,154.6 315.3,154.5 316.0,154.4 316.6,154.3 317.3,154.3 318.0,154.3 318.6,154.4 319.2,154.4 319.9,154.5 320.5,154.7 321.2,154.8 321.8,154.9 322.4,155.0 323.1,155.2 323.7,155.3 324.3,155.4 325.0,155.5 325.6,155.7 326.2,155.8 326.9,155.9 327.5,156.0 328.1,156.2 328.8,156.3 329.4,156.4 330.0,156.5 330.7,156.7 331.3,156.9 331.9,157.1 332.5,157.4 333.2,157.7 333.8,158.0 334.4,158.3 335.0,158.7 335.6,159.1 336.2,159.5 336.7,160.0 337.3,160.6 337.9,161.1 338.4,161.7 339.0,162.4 339.5,163.2 340.1,164.0 340.6,165.0 341.1,166.0 341.6,167.3 342.3,166.7 343.1,165.8 343.9,165.1 344.6,164.4 345.3,163.9 346.0,163.4 346.8,163.0 347.5,162.7 348.2,162.4 348.8,162.2 349.5,162.0 350.2,161.8 350.9,161.6 351.5,161.5 352.2,161.5 352.9,161.4 353.5,161.4 354.2,161.4 354.8,161.5 355.5,161.6 356.1,161.7 356.7,161.8 357.4,161.9 358.0,162.0 358.6,162.2 359.3,162.3 359.9,162.4 360.6,162.5 361.2,162.7 361.8,162.8 362.5,162.9 363.1,163.0 363.7,163.2 364.4,163.3 365.0,163.4 365.6,163.5 366.3,163.7 366.9,163.8 367.5,164.0 368.1,164.3 368.8,164.5 369.4,164.8 370.0,165.1 370.6,165.5 371.2,165.9 371.8,166.3 372.4,166.7 372.9,167.2 373.5,167.8 374.1,168.3 374.6,169.0 375.2,169.7 375.7,170.4 376.3,171.3 376.8,172.3 377.3,173.4 377.7,174.7 378.5,173.6 379.3,172.7 380.1,172.0 380.8,171.4 381.6,170.9 382.3,170.5 383.0,170.1 383.7,169.7 384.4,169.5 385.1,169.2 385.8,169.0 386.4,168.9 387.1,168.7 387.8,168.6 388.4,168.6 389.1,168.5 389.7,168.5 390.4,168.5 391.0,168.6 391.7,168.7 392.3,168.8 393.0,168.9 393.6,169.0 394.2,169.2 394.9,169.3 395.5,169.4 396.1,169.5 396.8,169.7 397.4,169.8 398.0,169.9 398.7,170.0 399.3,170.2 400.0,170.3 400.6,170.4 401.2,170.5 401.9,170.7 402.5,170.8 403.1,171.0 403.7,171.2 404.4,171.4 405.0,171.7 405.6,172.0 406.2,172.3 406.8,172.7 407.4,173.0 408.0,173.5 408.6,173.9 409.1,174.4 409.7,175.0 410.3,175.6 410.8,176.2 411.4,176.9 411.9,177.7 412.5,178.6 413.0,179.6 413.4,180.7 414.0,181.5 414.8,180.5 415.6,179.7 416.3,179.0 417.1,178.4 417.8,177.9 418.5,177.5 419.2,177.1 419.9,176.8 420.6,176.5 421.3,176.3 422.0,176.1 422.7,175.9 423.3,175.8 424.0,175.7 424.7,175.7 425.3,175.6 426.0,175.6 426.6,175.7 427.3,175.7 427.9,175.8 428.5,175.9 429.2,176.0 429.8,176.2 430.5,176.3 431.1,176.4 431.7,176.5 432.4,176.7 433.0,176.8 433.6,176.9 434.3,177.0 434.9,177.2 435.5,177.3 436.2,177.4 436.8,177.5 437.4,177.7 438.1,177.8 438.7,177.9 439.3,178.1 440.0,178.3 440.6,178.6 441.2,178.8 441.8,179.1 442.4,179.5 443.0,179.8 443.6,180.2 444.2,180.7 444.8,181.1 445.4,181.6 445.9,182.2 446.5,182.8 447.0,183.5 447.6,184.2 448.1,185.0 448.6,185.9 449.1,186.9 449.6,188.1 450.2,188.4 451.0,187.5 451.8,186.7 452.5,186.0 453.3,185.4 454.0,184.9 454.7,184.5 455.4,184.2 456.1,183.8 456.8,183.6 457.5,183.3 458.2,183.2 458.9,183.0 459.6,182.9 460.2,182.8 460.9,182.8 461.5,182.7 462.2,182.7 462.8,182.8 463.5,182.8 464.1,182.9 464.8,183.0 465.4,183.2 466.0,183.3 466.7,183.4 467.3,183.5 467.9,183.7 468.6,183.8" fill="none" stroke="#c9c0c5" stroke-width="1.6" opacity="0.85"/>
<polygon points="212.0,156.0 212.0,156.0 210.5,167.0 208.7,180.0 205.1,206.0 204.3,211.8 204.0,213.5 203.8,215.0 203.6,216.3 203.5,217.3 203.4,218.0 203.4,218.2 203.4,218.0 203.5,217.3 203.6,216.3 203.8,215.0 204.0,213.5 204.3,211.8 205.1,206.0 208.7,180.0 210.5,167.0" fill="#bab1b6" />
<polygon points="212.0,156.0 210.9,163.5 204.9,207.5 204.9,207.5 210.8,164.5" fill="#4b4649" />
<polygon points="221.5,157.9 241.5,161.8 241.6,173.1 238.7,185.9 230.7,211.1 229.9,216.9 229.5,218.5 228.6,219.9 227.5,221.1 226.1,221.8 224.5,222.2 222.8,222.1 221.3,221.5 219.9,220.6 218.7,219.3 217.9,217.8 217.5,216.1 217.6,214.4 218.4,208.6 217.6,181.8 218.4,168.6" fill="#bab1b6" />
<polygon points="232.0,159.9 235.9,168.4 225.1,211.5 223.5,211.2 224.9,167.3" fill="#4b4649" />
<polygon points="257.6,165.0 277.6,168.9 277.6,180.3 274.8,193.1 266.7,218.2 265.9,224.0 265.4,225.6 264.6,227.1 263.4,228.2 262.0,229.0 260.4,229.3 258.8,229.2 257.2,228.7 255.8,227.7 254.7,226.5 253.9,224.9 253.5,223.3 253.5,221.6 254.3,215.8 253.6,188.9 254.4,175.7" fill="#bab1b6" />
<polygon points="268.1,167.1 271.9,175.5 261.1,218.7 259.5,218.3 261.0,174.4" fill="#4b4649" />
<polygon points="293.6,172.1 313.6,176.0 313.6,187.4 310.8,200.2 302.7,225.4 301.8,231.2 301.4,232.8 300.5,234.2 299.4,235.3 298.0,236.1 296.4,236.4 294.7,236.3 293.2,235.8 291.8,234.9 290.6,233.6 289.9,232.1 289.5,230.4 289.5,228.7 290.3,222.9 289.6,196.0 290.5,182.8" fill="#bab1b6" />
<polygon points="304.1,174.2 307.9,182.6 297.1,225.8 295.5,225.5 297.0,181.5" fill="#4b4649" />
<polygon points="329.7,179.2 349.7,183.2 349.7,194.5 346.8,207.3 338.6,232.5 337.8,238.3 337.3,239.9 336.5,241.3 335.3,242.5 333.9,243.2 332.3,243.6 330.7,243.5 329.1,242.9 327.7,242.0 326.6,240.7 325.8,239.2 325.4,237.5 325.4,235.8 326.3,230.0 325.6,203.1 326.5,189.9" fill="#bab1b6" />
<polygon points="340.2,181.3 344.0,189.8 333.0,232.9 331.4,232.6 333.1,188.6" fill="#4b4649" />
<polygon points="365.8,186.3 385.7,190.3 385.7,201.6 382.8,214.4 374.6,239.6 373.8,245.4 373.3,247.0 372.5,248.5 371.3,249.6 369.9,250.4 368.3,250.7 366.6,250.6 365.1,250.1 363.7,249.1 362.5,247.9 361.8,246.3 361.4,244.7 361.4,243.0 362.2,237.2 361.7,210.2 362.5,197.0" fill="#bab1b6" />
<polygon points="376.2,188.4 380.0,196.9 369.0,240.1 367.4,239.7 369.1,195.7" fill="#4b4649" />
<polygon points="401.8,193.4 421.8,197.4 421.7,208.7 418.8,221.6 410.6,246.7 409.7,252.6 409.3,254.2 408.4,255.6 407.2,256.7 405.8,257.5 404.2,257.8 402.6,257.7 401.0,257.2 399.6,256.3 398.5,255.0 397.7,253.5 397.3,251.8 397.4,250.1 398.2,244.3 397.7,217.4 398.6,204.1" fill="#bab1b6" />
<polygon points="412.3,195.5 416.1,204.0 405.0,247.2 403.4,246.9 405.1,202.9" fill="#4b4649" />
<polygon points="437.9,200.5 457.8,204.5 457.8,215.8 454.8,228.7 446.5,253.9 445.7,259.7 445.2,261.3 444.4,262.7 443.2,263.9 441.8,264.6 440.2,265.0 438.5,264.9 437.0,264.4 435.6,263.4 434.4,262.1 433.7,260.6 433.3,258.9 433.3,257.2 434.2,251.4 433.7,224.5 434.6,211.3" fill="#bab1b6" />
<polygon points="448.4,202.6 452.1,211.1 440.9,254.3 439.3,254.0 441.2,210.0" fill="#4b4649" />
<polygon points="465.9,206.1 465.9,206.1 464.2,217.1 462.3,230.1 458.3,256.2 457.5,262.0 457.2,263.7 457.0,265.2 456.8,266.6 456.6,267.6 456.5,268.2 456.5,268.5 456.5,268.2 456.6,267.6 456.8,266.6 457.0,265.2 457.2,263.7 457.5,262.0 458.3,256.2 462.3,230.1 464.2,217.1" fill="#bab1b6" />
<polygon points="465.9,206.1 464.8,213.6 458.1,257.7 458.1,257.7 464.6,214.6" fill="#4b4649" />
<polygon points="213.1,147.8 213.3,146.3 213.5,144.9 213.7,143.6 213.8,142.5 214.0,141.6 214.1,140.9 214.1,140.4 214.2,140.3 220.6,141.6 222.1,142.0 223.4,142.7 224.6,143.7 225.6,144.8 226.4,146.1 226.9,147.6 227.2,149.1 227.1,150.6 226.3,156.6 226.2,156.9 226.0,157.3 225.8,157.6 225.5,157.9 225.2,158.0 224.8,158.2 224.4,158.2 224.0,158.2 212.0,155.8 212.0,155.8 212.0,155.6 212.1,155.5 212.1,155.2 212.1,154.9 212.2,154.6 212.2,154.2 212.3,153.8" fill="#1aa0e0" />
<polygon points="238.2,152.7 238.5,151.3 239.2,150.0 240.0,148.8 241.1,147.9 242.4,147.2 243.8,146.7 245.3,146.6 246.7,146.7 256.7,148.7 258.2,149.1 259.5,149.8 260.7,150.8 261.7,151.9 262.5,153.2 263.0,154.7 263.2,156.2 263.2,157.7 262.3,163.7 262.2,164.0 262.1,164.4 261.8,164.7 261.5,165.0 261.2,165.2 260.8,165.3 260.4,165.3 260.1,165.3 239.1,161.1 238.7,161.0 238.3,160.8 238.0,160.6 237.7,160.3 237.5,159.9 237.4,159.5 237.3,159.1 237.4,158.7" fill="#1aa0e0" />
<polygon points="274.3,159.8 274.6,158.4 275.2,157.1 276.1,155.9 277.2,155.0 278.5,154.3 279.9,153.8 281.3,153.7 282.8,153.8 292.8,155.8 294.3,156.2 295.6,156.9 296.8,157.9 297.8,159.0 298.6,160.4 299.1,161.8 299.3,163.3 299.2,164.8 298.4,170.8 298.3,171.2 298.1,171.5 297.9,171.8 297.6,172.1 297.3,172.3 296.9,172.4 296.5,172.4 296.1,172.4 275.1,168.2 274.8,168.1 274.4,167.9 274.1,167.7 273.8,167.4 273.6,167.0 273.5,166.6 273.4,166.3 273.4,165.9" fill="#1aa0e0" />
<polygon points="310.3,167.0 310.7,165.5 311.3,164.2 312.2,163.0 313.3,162.1 314.6,161.4 316.0,160.9 317.4,160.8 318.9,160.9 328.9,162.9 330.3,163.3 331.7,164.0 332.9,165.0 333.9,166.1 334.7,167.5 335.2,168.9 335.4,170.4 335.3,171.9 334.5,177.9 334.4,178.3 334.2,178.6 334.0,178.9 333.7,179.2 333.3,179.4 333.0,179.5 332.6,179.5 332.2,179.5 311.2,175.4 310.8,175.2 310.5,175.1 310.1,174.8 309.9,174.5 309.7,174.1 309.5,173.8 309.5,173.4 309.5,173.0" fill="#1aa0e0" />
<polygon points="346.4,174.1 346.8,172.6 347.4,171.3 348.3,170.1 349.4,169.2 350.6,168.5 352.0,168.0 353.5,167.9 355.0,168.0 365.0,170.0 366.4,170.4 367.8,171.1 369.0,172.1 370.0,173.2 370.7,174.6 371.2,176.0 371.5,177.5 371.4,179.0 370.5,185.0 370.4,185.4 370.3,185.7 370.0,186.0 369.7,186.3 369.4,186.5 369.0,186.6 368.6,186.6 368.2,186.6 347.3,182.5 346.9,182.4 346.5,182.2 346.2,181.9 345.9,181.6 345.7,181.3 345.6,180.9 345.5,180.5 345.5,180.1" fill="#1aa0e0" />
<polygon points="382.5,181.2 382.8,179.7 383.5,178.4 384.4,177.2 385.5,176.3 386.7,175.6 388.1,175.1 389.6,175.0 391.1,175.1 401.1,177.1 402.5,177.5 403.9,178.2 405.1,179.2 406.1,180.3 406.8,181.7 407.3,183.1 407.5,184.6 407.5,186.1 406.6,192.1 406.5,192.5 406.3,192.8 406.1,193.2 405.8,193.4 405.4,193.6 405.1,193.7 404.7,193.8 404.3,193.7 383.3,189.6 382.9,189.5 382.6,189.3 382.2,189.0 382.0,188.7 381.8,188.4 381.6,188.0 381.6,187.6 381.6,187.2" fill="#1aa0e0" />
<polygon points="418.6,188.3 418.9,186.8 419.6,185.5 420.4,184.4 421.5,183.4 422.8,182.7 424.2,182.2 425.7,182.1 427.2,182.2 437.2,184.2 438.6,184.6 439.9,185.3 441.1,186.3 442.1,187.5 442.9,188.8 443.4,190.2 443.6,191.7 443.5,193.2 442.6,199.2 442.5,199.6 442.4,200.0 442.1,200.3 441.8,200.5 441.5,200.7 441.1,200.8 440.7,200.9 440.3,200.8 419.4,196.7 419.0,196.6 418.6,196.4 418.3,196.1 418.0,195.8 417.8,195.5 417.7,195.1 417.6,194.7 417.7,194.3" fill="#1aa0e0" />
<polygon points="454.6,195.4 455.0,193.9 455.6,192.6 456.5,191.5 457.6,190.5 458.9,189.8 460.3,189.3 461.8,189.2 463.3,189.3 468.2,190.3 468.2,190.5 468.2,190.9 468.1,191.6 467.9,192.5 467.7,193.7 467.6,195.0 467.3,196.4 467.1,197.8 466.2,203.9 466.2,204.3 466.1,204.6 466.0,205.0 466.0,205.3 466.0,205.5 465.9,205.7 465.9,205.8 465.9,205.9 455.4,203.8 455.0,203.7 454.7,203.5 454.4,203.2 454.1,202.9 453.9,202.6 453.8,202.2 453.7,201.8 453.7,201.4" fill="#1aa0e0" />
<line x1="227.0" y1="66.0" x2="245.0" y2="100.0" stroke="#3a3a3a" stroke-width="1.4"/><polygon points="245.0,100.0 238.6,94.9 244.4,91.8" fill="#111"/>
<line x1="373.6" y1="82.3" x2="400.3" y2="89.3" stroke="#3a3a3a" stroke-width="1.4"/><polygon points="400.3,89.3 392.5,91.4 394.5,83.7" fill="#111"/><polygon points="373.6,82.3 381.4,80.2 379.4,87.9" fill="#111"/>
<line x1="157.5" y1="130.0" x2="203.2" y2="146.0" stroke="#3a3a3a" stroke-width="1.4"/><polygon points="203.2,146.0 195.0,146.6 197.2,140.4" fill="#111"/>
<line x1="196.3" y1="213.0" x2="201.6" y2="158.0" stroke="#3a3a3a" stroke-width="1.4"/><polygon points="201.6,158.0 204.2,165.8 197.6,165.1" fill="#111"/><polygon points="196.3,213.0 193.7,205.2 200.3,205.9" fill="#111"/>
<line x1="143.2" y1="244.7" x2="227.0" y2="188.8" stroke="#3a3a3a" stroke-width="1.4"/><polygon points="227.0,188.8 222.6,195.7 218.9,190.2" fill="#111"/>
</svg>
<div class="t" style="left:176.0px;top:38.0px;font-size:18.0px;letter-spacing:0.60px">硅碳氮厚度</div>
<div class="t" style="left:351.0px;top:36.0px;font-size:18.0px;letter-spacing:0.60px">M1关键尺寸</div>
<div class="t" style="left:329.0px;top:55.8px;font-size:18.0px;letter-spacing:0.60px">（21nm半间距）</div>
<div class="t" style="left:87.0px;top:101.6px;font-size:18.0px;letter-spacing:0.60px">硬掩膜厚度</div>
<div class="t" style="left:124.0px;top:172.6px;font-size:18.0px;letter-spacing:0.60px">钉高度</div>
<div class="t" style="left:21.3px;top:255.4px;font-size:18.0px;letter-spacing:0.45px">输出：空气间隙体积</div>
<div class="t" style="left:21.0px;top:277.8px;font-size:18.0px;letter-spacing:0.45px">当体积为0时，闭合失败</div>
<div class="t" style="left:124.3px;top:360.3px;font-size:18.0px;letter-spacing:0.60px">使用SEMulator 3D进行<span style="letter-spacing:-0.45px">200</span>次蒙特卡罗实验</div>
</body></html>
